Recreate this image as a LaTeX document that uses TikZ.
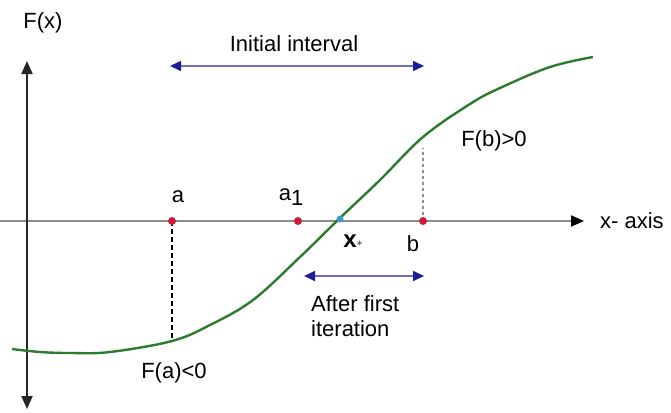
\documentclass[tikz,border=0pt]{standalone}
\usepackage{fontspec}
\setmainfont{Liberation Sans}
\usetikzlibrary{arrows.meta}
\definecolor{curvegreen}{HTML}{2E7A2E}
\definecolor{axisgray}{HTML}{8C8C8C}
\definecolor{ptred}{HTML}{D01A3C}
\definecolor{rootblue}{HTML}{3A9AD0}
\definecolor{spanblue}{HTML}{6C6CC4}
\definecolor{tipblue}{HTML}{1C1C9C}

\tikzset{
  lbl/.style={font=\fontsize{22}{25}\selectfont, inner sep=0pt},
  endpt/.style={circle, fill=ptred, minimum size=8pt, inner sep=0pt},
  rootpt/.style={circle, fill=rootblue, minimum size=7pt, inner sep=0pt},
  span/.style={spanblue, line width=1.6pt,
    {Triangle[length=11pt,width=10pt,color=tipblue]}-{Triangle[length=11pt,width=10pt,color=tipblue]}},
  axis/.style={line width=2pt},
  drop/.style={line width=1.5pt, dash pattern=on 5pt off 3pt}
}

\begin{document}
\begin{tikzpicture}[x=1pt, y=-1pt]
  \useasboundingbox (0,0) rectangle (671,412);

  % Axes
  \coordinate (xl) at (0,221);
  \coordinate (xr) at (584,221);
  \coordinate (yb) at (27,409);
  \coordinate (yt) at (27,61);
  \draw[axis, axisgray, -{Triangle[length=13pt,width=11pt,color=black]}] (xl) -- (xr);
  \draw[axis, black!85, {Triangle[length=13pt,width=11pt]}-{Triangle[length=13pt,width=11pt]}] (yb) -- (yt);
  \node[lbl] (fx) at (43,23) {F(x)};
  \node[lbl, anchor=west] (xaxis) at (600,221) {x- axis};

  % The function
  \draw[curvegreen, line width=2.4pt] plot[smooth, tension=0.6] coordinates {
    (12,349) (40,352) (70,353) (110,352) (172,341) (210,325) (253,300)
    (300,257) (340,218) (380,180) (423,137) (470,104) (500,88) (550,67) (593,57)};

  % Points on the axis
  \coordinate (fa) at (172,341);
  \coordinate (fb) at (423,148);
  \draw[drop, black] (172,221) -- (fa);
  \draw[drop, axisgray, dash pattern=on 3pt off 3pt] (423,221) -- (fb);
  \node[endpt] (pa) at (172,221) {};
  \node[endpt] (pa1) at (298,221) {};
  \node[endpt] (pb) at (423,221) {};
  \node[rootpt] (px) at (340,219) {};

  \node[lbl] (la) at (178,197) {a};
  \node[lbl] (la1) at (291,197) {a\raisebox{-5pt}{1}};
  \node[lbl] (lb) at (413,244) {b};
  \node[inner sep=0pt, font=\fontsize{24}{26}\selectfont] (lx) at (353,241) {$\mathbf{x}$\raisebox{1pt}{\fontsize{13}{14}\selectfont$\ast$}};
  \node[lbl] (lfb) at (494,141) {F(b)>0};
  \node[lbl] (lfa) at (174,373) {F(a)<0};

  % Intervals
  \coordinate (i1l) at (170,66);
  \coordinate (i1r) at (424,66);
  \draw[span] (i1l) -- (i1r);
  \node[lbl] (linit) at (294,44) {Initial interval};
  \coordinate (i2l) at (304,276);
  \coordinate (i2r) at (424,276);
  \draw[span] (i2l) -- (i2r);
  \node[lbl, anchor=north west, align=left] (lafter) at (311,295) {After first\\iteration};
\end{tikzpicture}
\end{document}
